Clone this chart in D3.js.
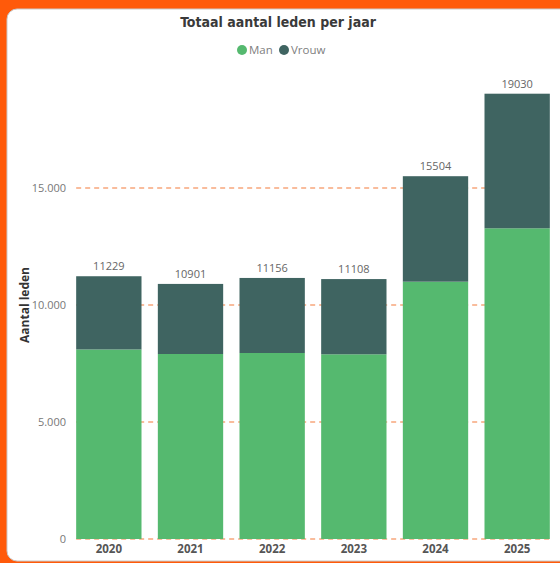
<!DOCTYPE html>
<html>
<head>
<meta charset="utf-8">
<script src="https://cdn.jsdelivr.net/npm/d3@7"></script>
<style>
  body { margin: 0; background: #ff5a0a; }
  svg { display: block; }
</style>
</head>
<body>
<svg id="chart"></svg>
<script>
// data
const years = ["2020", "2021", "2022", "2023", "2024", "2025"];
const man = [8100, 7906, 7949, 7893, 10996, 13278];
const totals = [11229, 10901, 11156, 11108, 15504, 19030];
const vrouw = totals.map((t, i) => t - man[i]);
const yTicks = [0, 5000, 10000, 15000];

const width = 560, height = 563;
const green = "#55b96f", teal = "#3f6461";

const svg = d3.select("#chart").attr("width", width).attr("height", height);

// white card on orange
svg.append("rect").attr("width", width).attr("height", height).attr("fill", "#ff5a0a");
svg.append("rect")
  .attr("x", 7).attr("y", 9).attr("width", 580).attr("height", 552).attr("rx", 10)
  .attr("fill", "#fff").attr("stroke", "#c9c9c9").attr("stroke-width", 1);

const x = d3.scaleBand().domain(years).range([68, 558]).paddingInner(0.2).paddingOuter(0.1);
const y = d3.scaleLinear().domain([0, 15000]).range([539, 188]);

const font = "'Open Sans', 'Noto Sans', sans-serif";

// title + legend
svg.append("text").attr("x", 278).attr("y", 27).attr("text-anchor", "middle")
  .attr("font-family", "'DejaVu Sans Condensed', sans-serif").attr("font-weight", "bold")
  .attr("font-size", 14).attr("fill", "#3a3a3a").text("Totaal aantal leden per jaar");

const legend = [["Man", green, 242], ["Vrouw", teal, 284]];
legend.forEach(([name, col, lx]) => {
  svg.append("circle").attr("cx", lx).attr("cy", 50).attr("r", 5).attr("fill", col);
  svg.append("text").attr("x", lx + 7).attr("y", 54).attr("font-family", font)
    .attr("font-size", 11.5).attr("fill", "#808080").text(name);
});

// gridlines
const gx0 = x(years[0]), gx1 = x(years[years.length - 1]) + x.bandwidth();
svg.append("g").selectAll("line").data(yTicks).join("line")
  .attr("x1", gx0).attr("x2", gx1)
  .attr("y1", d => y(d)).attr("y2", d => y(d))
  .attr("stroke", "#f47a3a").attr("stroke-width", 1.2).attr("stroke-dasharray", "5,4");

// y axis labels
const yAxis = svg.append("g").attr("transform", "translate(70,0)")
  .call(d3.axisLeft(y).tickValues(yTicks).tickSize(0).tickPadding(4)
    .tickFormat(d => d3.format(",")(d).replace(/,/g, ".")));
yAxis.select(".domain").remove();
yAxis.selectAll("text").attr("font-family", font).attr("font-size", 11).attr("fill", "#777");

svg.append("text").attr("transform", "translate(29,305) rotate(-90)").attr("text-anchor", "middle")
  .attr("font-family", font).attr("font-weight", "bold").attr("font-size", 12)
  .attr("fill", "#333").text("Aantal leden");

// stacked bars
const series = d3.stack().keys(["man", "vrouw"])(
  years.map((yr, i) => ({ year: yr, man: man[i], vrouw: vrouw[i] })));
const colors = { man: green, vrouw: teal };

svg.append("g").selectAll("g").data(series).join("g")
  .attr("fill", d => colors[d.key])
  .selectAll("rect").data(d => d).join("rect")
  .attr("x", d => x(d.data.year))
  .attr("width", x.bandwidth())
  .attr("y", d => y(d[1]))
  .attr("height", d => y(d[0]) - y(d[1]));

// totals above bars
svg.append("g").selectAll("text").data(years).join("text")
  .attr("x", d => x(d) + x.bandwidth() / 2)
  .attr("y", (d, i) => y(totals[i]) - 6)
  .attr("text-anchor", "middle").attr("font-family", font).attr("font-size", 11)
  .attr("fill", "#666").text((d, i) => totals[i]);

// x axis labels
const xAxis = svg.append("g").attr("transform", "translate(0,539)")
  .call(d3.axisBottom(x).tickSize(0).tickPadding(6));
xAxis.select(".domain").remove();
xAxis.selectAll("text").attr("font-family", font).attr("font-weight", "bold")
  .attr("font-size", 11.5).attr("fill", "#555");
</script>
</body>
</html>
